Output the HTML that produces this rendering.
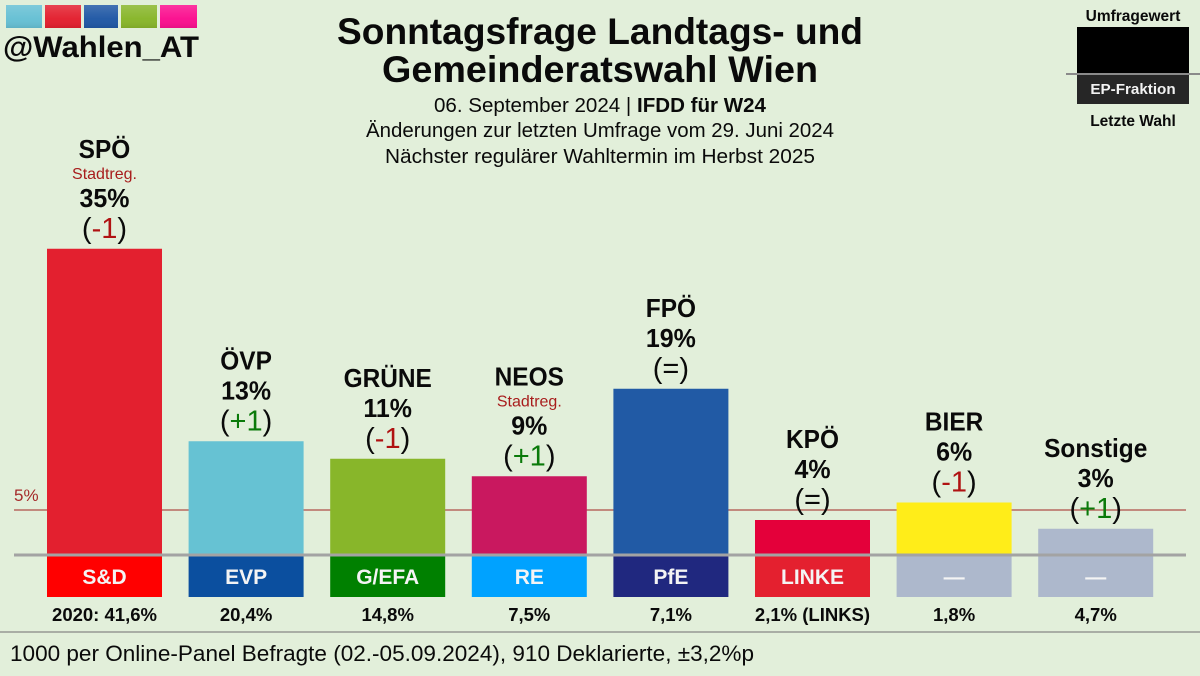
<!DOCTYPE html>
<html lang="de">
<head>
<meta charset="utf-8">
<title>Sonntagsfrage Landtags- und Gemeinderatswahl Wien</title>
<style>
html,body{margin:0;padding:0;background:#e2efda;width:1200px;height:676px;overflow:hidden}
svg{display:block}
text{font-family:"Liberation Sans",sans-serif;fill:#0a0a0a}
</style>
</head>
<body>
<svg id="chart" xmlns="http://www.w3.org/2000/svg" width="1200" height="676" viewBox="0 0 1200 676">
  <defs>
    <linearGradient id="gloss" x1="0" y1="0" x2="0" y2="1">
      <stop offset="0" stop-color="#fff" stop-opacity="0.16"/>
      <stop offset="0.6" stop-color="#fff" stop-opacity="0.02"/>
      <stop offset="1" stop-color="#000" stop-opacity="0.08"/>
    </linearGradient>
  </defs>
  <rect x="0" y="0" width="1200" height="676" fill="#e2efda"/>

  <g>
    <rect x="6" y="5" width="36" height="23" fill="#66c0d4"/>
    <rect x="45" y="5" width="36" height="23" fill="#e3202f"/>
    <rect x="84" y="5" width="34" height="23" fill="#2058a5"/>
    <rect x="121" y="5" width="36" height="23" fill="#88b62a"/>
    <rect x="160" y="5" width="37" height="23" fill="#fb0f8f"/>
    <rect x="6" y="5" width="36" height="23" fill="url(#gloss)"/>
    <rect x="45" y="5" width="36" height="23" fill="url(#gloss)"/>
    <rect x="84" y="5" width="34" height="23" fill="url(#gloss)"/>
    <rect x="121" y="5" width="36" height="23" fill="url(#gloss)"/>
    <rect x="160" y="5" width="37" height="23" fill="url(#gloss)"/>
  </g>
  <text x="3" y="57" font-size="30" font-weight="700" textLength="196" lengthAdjust="spacingAndGlyphs">@Wahlen_AT</text>

  <g>
    <text x="337" y="44" font-size="37" font-weight="700" textLength="526" lengthAdjust="spacingAndGlyphs">Sonntagsfrage Landtags- und</text>
    <text x="382" y="82" font-size="37" font-weight="700" textLength="436" lengthAdjust="spacingAndGlyphs">Gemeinderatswahl Wien</text>
  </g>
  <g>
    <text x="434" y="112" font-size="20" textLength="332" lengthAdjust="spacingAndGlyphs">06. September 2024 | <tspan font-weight="700">IFDD für W24</tspan></text>
    <text x="366" y="137" font-size="20" textLength="468" lengthAdjust="spacingAndGlyphs">Änderungen zur letzten Umfrage vom 29. Juni 2024</text>
    <text x="385" y="163" font-size="20" textLength="430" lengthAdjust="spacingAndGlyphs">Nächster regulärer Wahltermin im Herbst 2025</text>
  </g>

  <g>
    <text x="1133" y="21" font-size="15.5" font-weight="700" text-anchor="middle">Umfragewert</text>
    <rect x="1077" y="27" width="112" height="46" fill="#000"/>
    <rect x="1077" y="74" width="112" height="30" fill="#262626"/>
    <rect x="1066" y="73" width="134" height="2" fill="#8a8a8a"/>
    <text x="1133" y="94" font-size="15.2" font-weight="700" text-anchor="middle" style="fill:#f2f2f2">EP-Fraktion</text>
    <text x="1133" y="126" font-size="15.5" font-weight="700" text-anchor="middle">Letzte Wahl</text>
  </g>

  <line x1="14" x2="1186" y1="510" y2="510" stroke="#b8685f" stroke-width="1.5"/>
  <text x="14" y="501" font-size="17" style="fill:#a52a2a">5%</text>

  <g id="bars"></g>
  <line x1="14" x2="1186" y1="555" y2="555" stroke="#a3a3a3" stroke-width="3"/>
  <g id="labels"></g>

  <line x1="0" x2="1200" y1="632" y2="632" stroke="#a9aea5" stroke-width="2"/>
  <text x="10" y="661" font-size="22" textLength="744" lengthAdjust="spacingAndGlyphs">1000 per Online-Panel Befragte (02.-05.09.2024), 910 Deklarierte, ±3,2%p</text>
</svg>

<script>
const parties = ['SPÖ', 'ÖVP', 'GRÜNE', 'NEOS', 'FPÖ', 'KPÖ', 'BIER', 'Sonstige'];
const pollValues = [35, 13, 11, 9, 19, 4, 6, 3];
const changes = [-1, 1, -1, 1, 0, 0, -1, 1];
const notes = ['Stadtreg.', '', '', 'Stadtreg.', '', '', '', ''];
const epGroups = ['S&D', 'EVP', 'G/EFA', 'RE', 'PfE', 'LINKE', '—', '—'];
const lastResults = ['2020: 41,6%', '20,4%', '14,8%', '7,5%', '7,1%', '2,1% (LINKS)', '1,8%', '4,7%'];
const barColors = ['#e3202f', '#66c2d3', '#88b62a', '#c9185f', '#215aa5', '#e4003a', '#ffed19', '#adb8cc'];
const groupColors = ['#ff0000', '#0b4f9f', '#008000', '#00a2ff', '#20287f', '#e4202f', '#adb8cc', '#adb8cc'];

const NS = 'http://www.w3.org/2000/svg';
const BASE_Y = 555;
const PX_PER_POINT = 8.75;
const BAR_W = 115;
const FIRST_CENTER = 104.5;
const STEP = 141.6;
const GROUP_H = 42;

function xCenter(i) { return FIRST_CENTER + STEP * i; }
function yValue(v) { return BASE_Y - v * PX_PER_POINT; }

function makeText(parent, x, y, size, weight, fill, content) {
  const t = document.createElementNS(NS, 'text');
  t.setAttribute('x', x);
  t.setAttribute('y', y);
  t.setAttribute('font-size', size);
  t.setAttribute('font-weight', weight);
  t.setAttribute('text-anchor', 'middle');
  t.style.fill = fill;
  t.textContent = content;
  parent.appendChild(t);
  return t;
}

function makeRect(parent, x, y, w, h, fill) {
  const r = document.createElementNS(NS, 'rect');
  r.setAttribute('x', x);
  r.setAttribute('y', y);
  r.setAttribute('width', w);
  r.setAttribute('height', h);
  r.setAttribute('fill', fill);
  parent.appendChild(r);
  return r;
}

function squeeze(t, factor) {
  t.setAttribute('textLength', t.getComputedTextLength() * factor);
  t.setAttribute('lengthAdjust', 'spacingAndGlyphs');
}

const barsLayer = document.getElementById('bars');
const labelsLayer = document.getElementById('labels');

parties.forEach(function (party, i) {
  const cx = xCenter(i);
  const top = yValue(pollValues[i]);
  const slug = party.toLowerCase();

  const groupBox = makeRect(barsLayer, cx - BAR_W / 2, BASE_Y, BAR_W, GROUP_H, groupColors[i]);
  
  

  const bar = makeRect(barsLayer, cx - BAR_W / 2, top, BAR_W, BASE_Y - top, barColors[i]);
  
  

  const hasNote = notes[i] !== '';
  const nameLabel = makeText(labelsLayer, cx, top - (hasNote ? 91 : 72), 26, 700, '#0a0a0a', party);
  
  
  squeeze(nameLabel, 0.94);

  if (hasNote) {
    const noteLabel = makeText(labelsLayer, cx, top - 70, 16, 400, '#a81c1c', notes[i]);
    
    
  }

  const valueLabel = makeText(labelsLayer, cx, top - 42, 26, 700, '#0a0a0a', pollValues[i] + '%');
  
  
  squeeze(valueLabel, 0.96);

  const changeLabel = makeText(labelsLayer, cx, top - 11, 29, 400, '#0a0a0a', '');
  
  
  const change = changes[i];
  const changeColor = change > 0 ? '#0a7a0a' : (change < 0 ? '#b01212' : '#0a0a0a');
  const changeText = change > 0 ? '+' + change : (change < 0 ? String(change) : '=');
  changeLabel.appendChild(document.createTextNode('('));
  const inner = document.createElementNS(NS, 'tspan');
  inner.style.fill = changeColor;
  inner.textContent = changeText;
  changeLabel.appendChild(inner);
  changeLabel.appendChild(document.createTextNode(')'));

  const groupLabel = makeText(labelsLayer, cx, BASE_Y + 29, 21, 700, '#f4f4f4', epGroups[i]);
  
  

  const resultLabel = makeText(labelsLayer, cx, 621, 18.5, 700, '#0a0a0a', lastResults[i]);
  
  
});
</script>
</body>
</html>
